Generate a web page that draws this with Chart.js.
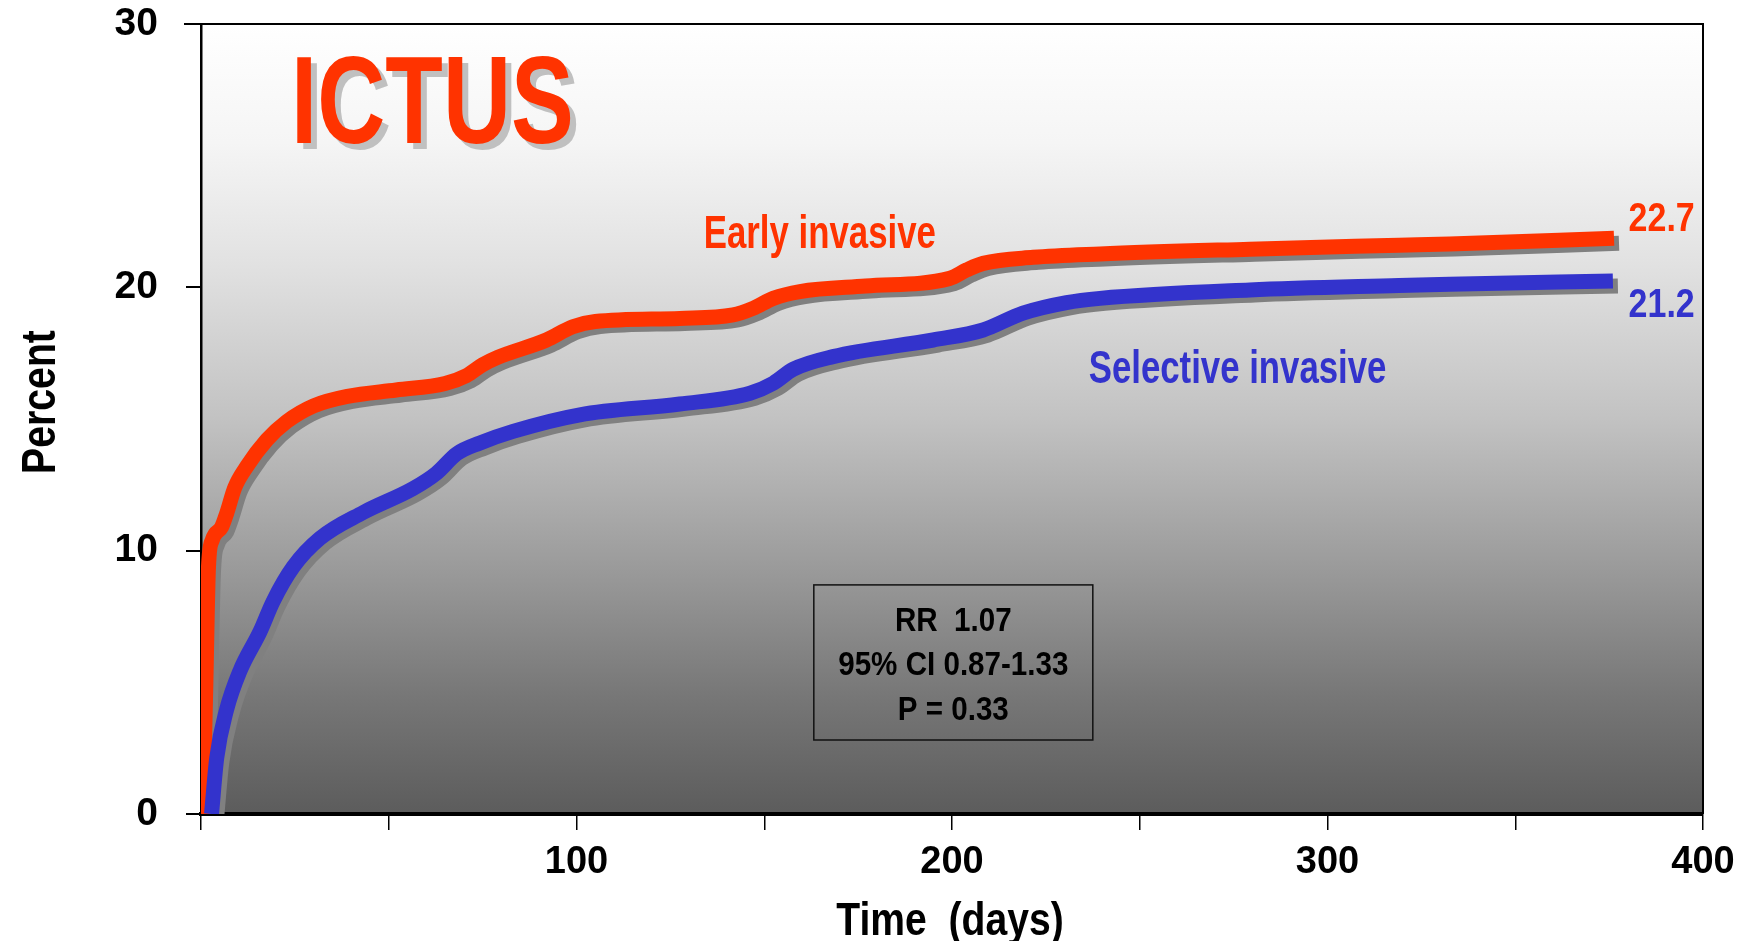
<!DOCTYPE html>
<html>
<head>
<meta charset="utf-8">
<script src="https://cdn.jsdelivr.net/npm/chart.js@4.4.1/dist/chart.umd.min.js"></script>
<style>
  html, body { margin: 0; padding: 0; background: #ffffff; }
  #wrap { width: 1742px; height: 941px; }
</style>
</head>
<body>
<div id="wrap"><canvas id="ictus" width="1742" height="941"></canvas></div>
<script>
// ICTUS: cumulative event rate (%) over time (days), early vs selective invasive strategy
const earlyDays = [0.5, 1.3, 2.0, 3.0, 5.5, 6.8, 9.0, 12.2, 17.5, 22.8, 30, 39, 52, 65, 70.7, 75, 79, 92, 99, 105, 127.5, 141.7, 147, 152.4, 159.5, 177, 199.4, 203.9, 208.3, 221.6, 239.4, 279.3, 319, 332.5, 376.3];
const earlyPct  = [0, 5.0, 9.4, 10.4, 10.9, 11.4, 12.4, 13.2, 14.2, 14.9, 15.5, 15.86, 16.1, 16.35, 16.65, 17.06, 17.34, 18.0, 18.5, 18.7, 18.82, 18.95, 19.2, 19.58, 19.84, 20.05, 20.34, 20.66, 20.91, 21.14, 21.27, 21.45, 21.6, 21.65, 21.86];

const selectiveDays = [2.8, 4.2, 6.8, 10.4, 15.7, 19.2, 24.6, 31.7, 43.2, 56.5, 62.7, 68.1, 74.3, 83.1, 100.9, 127.5, 146.2, 152.4, 157.7, 168.3, 195, 208.3, 218.9, 230.5, 239.4, 279.3, 319, 332.5, 376];
const selectivePct  = [0, 2.14, 3.95, 5.44, 6.92, 8.07, 9.39, 10.47, 11.45, 12.36, 12.94, 13.68, 14.09, 14.53, 15.16, 15.57, 15.98, 16.36, 16.89, 17.37, 18.0, 18.38, 19.02, 19.42, 19.58, 19.9, 20.07, 20.12, 20.24];

const seriesNames = ['Early invasive', 'Selective invasive'];
const oneYearRates = ['22.7', '21.2'];
const statsLines = ['RR  1.07', '95% CI 0.87-1.33', 'P = 0.33'];

const xTitle = 'Time  (days)';
const yTitle = 'Percent';
const xTickValues = [0, 50, 100, 150, 200, 250, 300, 350, 400];
const xTickLabels = ['', '', '100', '', '200', '', '300', '', '400'];
const yTickValues = [0, 10, 20, 30];
const yTickLabels = ['0', '10', '20', '30'];

const RED = '#ff3300';
const BLUE = '#3333cc';
const FONT = '"Liberation Sans", Arial, sans-serif';

const toPoints = (xs, ys) => xs.map((x, i) => ({ x: x, y: ys[i] }));

// bold text squeezed horizontally (condensed look); rot in radians
function drawText(ctx, text, x, y, size, color, squeeze, align, shadow, rot) {
  ctx.save();
  ctx.font = 'bold ' + size + 'px ' + FONT;
  ctx.textBaseline = 'alphabetic';
  ctx.textAlign = 'left';
  const w = ctx.measureText(text).width * squeeze;
  ctx.translate(x, y);
  if (rot) ctx.rotate(rot);
  ctx.translate(align === 'center' ? -w / 2 : 0, 0);
  ctx.scale(squeeze, 1);
  if (shadow) {
    ctx.fillStyle = shadow.color;
    ctx.fillText(text, shadow.dx / squeeze, shadow.dy);
  }
  ctx.fillStyle = color;
  ctx.fillText(text, 0, 0);
  ctx.restore();
}

const backdrop = {
  id: 'backdrop',
  beforeDraw(chart) {
    const { ctx, chartArea: a } = chart;
    const g = ctx.createLinearGradient(0, a.top, 0, a.bottom);
    g.addColorStop(0, '#ffffff');
    g.addColorStop(0.15, '#f5f5f5');
    g.addColorStop(0.3, '#e2e2e2');
    g.addColorStop(0.5, '#c2c2c2');
    g.addColorStop(0.7, '#989898');
    g.addColorStop(0.85, '#777777');
    g.addColorStop(1, '#5c5c5c');
    ctx.save();
    ctx.fillStyle = g;
    ctx.fillRect(a.left, a.top, a.right - a.left, a.bottom - a.top);
    ctx.restore();
  }
};

const lineShadow = {
  id: 'lineShadow',
  beforeDatasetDraw(chart) {
    const ctx = chart.ctx;
    ctx.save();
    ctx.shadowColor = '#808080';
    ctx.shadowOffsetX = 5;
    ctx.shadowOffsetY = 5;
    ctx.shadowBlur = 0;
  },
  afterDatasetDraw(chart) {
    chart.ctx.restore();
  }
};

const annotations = {
  id: 'annotations',
  afterDraw(chart) {
    const { ctx, chartArea: a, scales: { x, y } } = chart;

    // frame: top edge (extends left as the 30 tick) and right edge
    ctx.save();
    ctx.strokeStyle = '#000';
    ctx.lineWidth = 2;
    ctx.beginPath();
    ctx.moveTo(a.left - 17, a.top);
    ctx.lineTo(a.right, a.top);
    ctx.lineTo(a.right, a.bottom);
    ctx.stroke();
    ctx.restore();

    // axis titles
    drawText(ctx, xTitle, (a.left + a.right) / 2 - 2, a.bottom + 121, 46, '#000', 0.85, 'center');
    drawText(ctx, yTitle, 55, (a.top + a.bottom) / 2 - 17, 49, '#000', 0.8, 'center', null, -Math.PI / 2);

    // trial name
    drawText(ctx, 'ICTUS', x.getPixelForValue(24), y.getPixelForValue(25.5), 124, RED, 0.76, 'left',
      { color: '#c0c0c0', dx: 6, dy: 6 });

    // series labels
    drawText(ctx, seriesNames[0], x.getPixelForValue(133.9), y.getPixelForValue(21.5), 47, RED, 0.74, 'left');
    drawText(ctx, seriesNames[1], x.getPixelForValue(236.4), y.getPixelForValue(16.37), 47, BLUE, 0.74, 'left');

    // one-year event rates beside the curve ends
    drawText(ctx, oneYearRates[0], x.getPixelForValue(389), y.getPixelForValue(22.15), 40, RED, 0.85, 'center');
    drawText(ctx, oneYearRates[1], x.getPixelForValue(389), y.getPixelForValue(18.89), 40, BLUE, 0.85, 'center');

    // statistics box
    const bx0 = x.getPixelForValue(163.2), bx1 = x.getPixelForValue(237.5);
    const by0 = y.getPixelForValue(8.7), by1 = y.getPixelForValue(2.81);
    ctx.save();
    ctx.strokeStyle = '#111';
    ctx.lineWidth = 1.5;
    ctx.strokeRect(bx0, by0, bx1 - bx0, by1 - by0);
    ctx.restore();
    const cx = (bx0 + bx1) / 2;
    const baselines = [6.95, 5.28, 3.57];
    statsLines.forEach((t, i) => {
      drawText(ctx, t, cx, y.getPixelForValue(baselines[i]), 34, '#000', 0.87, 'center');
    });
  }
};

new Chart(document.getElementById('ictus'), {
  type: 'line',
  data: {
    datasets: [
      {
        label: seriesNames[0],
        data: toPoints(earlyDays, earlyPct),
        borderColor: RED,
        borderWidth: 15,
        borderCapStyle: 'butt',
        borderJoinStyle: 'round',
        pointRadius: 0,
        fill: false,
        cubicInterpolationMode: 'monotone',
        order: 2
      },
      {
        label: seriesNames[1],
        data: toPoints(selectiveDays, selectivePct),
        borderColor: BLUE,
        borderWidth: 15,
        borderCapStyle: 'butt',
        borderJoinStyle: 'round',
        pointRadius: 0,
        fill: false,
        cubicInterpolationMode: 'monotone',
        order: 1
      }
    ]
  },
  options: {
    responsive: false,
    animation: false,
    devicePixelRatio: 1,
    layout: { padding: { left: 0, top: 24, right: 39, bottom: 0 } },
    plugins: { legend: { display: false }, tooltip: { enabled: false } },
    scales: {
      x: {
        type: 'linear',
        min: 0,
        max: 400,
        afterBuildTicks: s => { s.ticks = xTickValues.map(v => ({ value: v })); },
        afterFit: s => { s.height = 127; s.paddingLeft = 0; s.paddingRight = 0; },
        ticks: {
          callback: (v, i) => xTickLabels[i],
          autoSkip: false,
          maxRotation: 0,
          color: '#000',
          padding: 10,
          font: { family: FONT, size: 38, weight: 'bold' }
        },
        grid: { drawOnChartArea: false, drawTicks: true, tickLength: 16, color: '#000', lineWidth: 1.5 },
        border: { display: true, color: '#000', width: 4 },
        title: { display: false }
      },
      y: {
        type: 'linear',
        min: 0,
        max: 30,
        afterBuildTicks: s => { s.ticks = yTickValues.map(v => ({ value: v })); },
        afterFit: s => { s.width = 201; s.paddingTop = 0; s.paddingBottom = 0; },
        ticks: {
          callback: (v, i) => yTickLabels[i],
          color: '#000',
          padding: 28,
          font: { family: FONT, size: 39, weight: 'bold' }
        },
        grid: { drawOnChartArea: false, drawTicks: true, tickLength: 15, color: '#000', lineWidth: 2 },
        border: { display: true, color: '#000', width: 2.5 },
        title: { display: false }
      }
    }
  },
  plugins: [backdrop, lineShadow, annotations]
});
</script>
</body>
</html>
